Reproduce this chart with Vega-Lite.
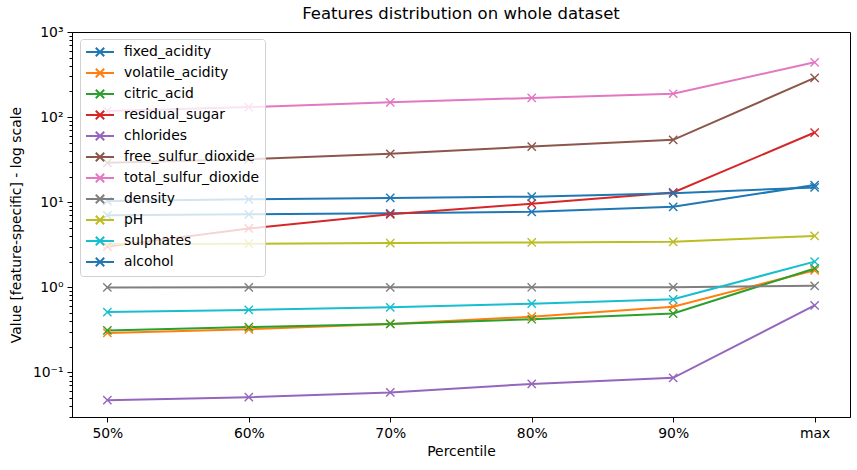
{
  "$schema": "https://vega.github.io/schema/vega-lite/v6.json",
  "autosize": {"type": "none"},
  "padding": {"left": 72, "top": 32, "right": 7, "bottom": 53},
  "width": 778,
  "height": 385,
  "background": "white",
  "title": {
    "text": "Features distribution on whole dataset",
    "fontSize": 16.5,
    "fontWeight": "normal",
    "font": "DejaVu Sans",
    "color": "black",
    "anchor": "middle",
    "offset": 3
  },
  "data": {
    "values": [
      {"feature": "fixed_acidity", "percentile": "50%", "value": 7.0},
      {"feature": "fixed_acidity", "percentile": "60%", "value": 7.2},
      {"feature": "fixed_acidity", "percentile": "70%", "value": 7.4},
      {"feature": "fixed_acidity", "percentile": "80%", "value": 7.7},
      {"feature": "fixed_acidity", "percentile": "90%", "value": 8.8},
      {"feature": "fixed_acidity", "percentile": "max", "value": 15.9},
      {"feature": "volatile_acidity", "percentile": "50%", "value": 0.29},
      {"feature": "volatile_acidity", "percentile": "60%", "value": 0.32},
      {"feature": "volatile_acidity", "percentile": "70%", "value": 0.37},
      {"feature": "volatile_acidity", "percentile": "80%", "value": 0.45},
      {"feature": "volatile_acidity", "percentile": "90%", "value": 0.59},
      {"feature": "volatile_acidity", "percentile": "max", "value": 1.58},
      {"feature": "citric_acid", "percentile": "50%", "value": 0.31},
      {"feature": "citric_acid", "percentile": "60%", "value": 0.34},
      {"feature": "citric_acid", "percentile": "70%", "value": 0.37},
      {"feature": "citric_acid", "percentile": "80%", "value": 0.42},
      {"feature": "citric_acid", "percentile": "90%", "value": 0.49},
      {"feature": "citric_acid", "percentile": "max", "value": 1.66},
      {"feature": "residual_sugar", "percentile": "50%", "value": 3.0},
      {"feature": "residual_sugar", "percentile": "60%", "value": 4.9},
      {"feature": "residual_sugar", "percentile": "70%", "value": 7.2},
      {"feature": "residual_sugar", "percentile": "80%", "value": 9.6},
      {"feature": "residual_sugar", "percentile": "90%", "value": 13.0},
      {"feature": "residual_sugar", "percentile": "max", "value": 65.8},
      {"feature": "chlorides", "percentile": "50%", "value": 0.047},
      {"feature": "chlorides", "percentile": "60%", "value": 0.051},
      {"feature": "chlorides", "percentile": "70%", "value": 0.058},
      {"feature": "chlorides", "percentile": "80%", "value": 0.073},
      {"feature": "chlorides", "percentile": "90%", "value": 0.086},
      {"feature": "chlorides", "percentile": "max", "value": 0.611},
      {"feature": "free_sulfur_dioxide", "percentile": "50%", "value": 29},
      {"feature": "free_sulfur_dioxide", "percentile": "60%", "value": 32},
      {"feature": "free_sulfur_dioxide", "percentile": "70%", "value": 37},
      {"feature": "free_sulfur_dioxide", "percentile": "80%", "value": 45},
      {"feature": "free_sulfur_dioxide", "percentile": "90%", "value": 54},
      {"feature": "free_sulfur_dioxide", "percentile": "max", "value": 289},
      {"feature": "total_sulfur_dioxide", "percentile": "50%", "value": 118},
      {"feature": "total_sulfur_dioxide", "percentile": "60%", "value": 131},
      {"feature": "total_sulfur_dioxide", "percentile": "70%", "value": 149},
      {"feature": "total_sulfur_dioxide", "percentile": "80%", "value": 168},
      {"feature": "total_sulfur_dioxide", "percentile": "90%", "value": 188},
      {"feature": "total_sulfur_dioxide", "percentile": "max", "value": 440},
      {"feature": "density", "percentile": "50%", "value": 0.9949},
      {"feature": "density", "percentile": "60%", "value": 0.9963},
      {"feature": "density", "percentile": "70%", "value": 0.9975},
      {"feature": "density", "percentile": "80%", "value": 0.9986},
      {"feature": "density", "percentile": "90%", "value": 0.9996},
      {"feature": "density", "percentile": "max", "value": 1.039},
      {"feature": "pH", "percentile": "50%", "value": 3.21},
      {"feature": "pH", "percentile": "60%", "value": 3.25},
      {"feature": "pH", "percentile": "70%", "value": 3.3},
      {"feature": "pH", "percentile": "80%", "value": 3.36},
      {"feature": "pH", "percentile": "90%", "value": 3.42},
      {"feature": "pH", "percentile": "max", "value": 4.01},
      {"feature": "sulphates", "percentile": "50%", "value": 0.51},
      {"feature": "sulphates", "percentile": "60%", "value": 0.54},
      {"feature": "sulphates", "percentile": "70%", "value": 0.58},
      {"feature": "sulphates", "percentile": "80%", "value": 0.64},
      {"feature": "sulphates", "percentile": "90%", "value": 0.72},
      {"feature": "sulphates", "percentile": "max", "value": 2.0},
      {"feature": "alcohol", "percentile": "50%", "value": 10.3},
      {"feature": "alcohol", "percentile": "60%", "value": 10.8},
      {"feature": "alcohol", "percentile": "70%", "value": 11.2},
      {"feature": "alcohol", "percentile": "80%", "value": 11.6},
      {"feature": "alcohol", "percentile": "90%", "value": 12.7},
      {"feature": "alcohol", "percentile": "max", "value": 14.9}
    ]
  },
  "mark": {
    "type": "line",
    "strokeWidth": 2,
    "point": {
      "shape": "M-1,-1L1,1M-1,1L1,-1",
      "filled": false,
      "size": 68,
      "strokeWidth": 1.4
    }
  },
  "encoding": {
    "x": {
      "field": "percentile",
      "type": "ordinal",
      "sort": ["50%", "60%", "70%", "80%", "90%", "max"],
      "scale": {"type": "point", "padding": 0.25},
      "axis": {"title": "Percentile", "labelAngle": 0, "titlePadding": 5}
    },
    "y": {
      "field": "value",
      "type": "quantitative",
      "scale": {"type": "log", "domain": [0.0298, 1000], "nice": false},
      "axis": {
        "title": "Value [feature-specific] - log scale",
        "titlePadding": 9,
        "values": [0.03, 0.04, 0.05, 0.06, 0.07, 0.08, 0.09, 0.1, 0.2, 0.3, 0.4, 0.5, 0.6, 0.7, 0.8, 0.9, 1, 2, 3, 4, 5, 6, 7, 8, 9, 10, 20, 30, 40, 50, 60, 70, 80, 90, 100, 200, 300, 400, 500, 600, 700, 800, 900, 1000],
        "labelExpr": "datum.value == 1000 ? '10³' : datum.value == 100 ? '10²' : datum.value == 10 ? '10¹' : datum.value == 1 ? '10⁰' : datum.value == 0.1 ? '10⁻¹' : ''",
        "tickSize": {"condition": {"test": "indexof([0.1, 1, 10, 100, 1000], datum.value) >= 0", "value": 5}, "value": 3},
        "labelOverlap": false
      }
    },
    "color": {
      "field": "feature",
      "type": "nominal",
      "scale": {
        "domain": ["fixed_acidity", "volatile_acidity", "citric_acid", "residual_sugar", "chlorides", "free_sulfur_dioxide", "total_sulfur_dioxide", "density", "pH", "sulphates", "alcohol"],
        "range": ["#1f77b4", "#ff7f0e", "#2ca02c", "#d62728", "#9467bd", "#8c564b", "#e377c2", "#7f7f7f", "#bcbd22", "#17becf", "#1f77b4"]
      },
      "legend": {
        "title": null,
        "orient": "none",
        "legendX": 8,
        "legendY": 7,
        "symbolType": "M-2,0L2,0M-0.6,-0.6L0.6,0.6M-0.6,0.6L0.6,-0.6",
        "symbolSize": 196,
        "symbolOffset": 7,
        "symbolStrokeWidth": 2,
        "symbolFillColor": "transparent",
        "labelFontSize": 13.9,
        "labelFont": "DejaVu Sans",
        "labelColor": "black",
        "labelLimit": 300,
        "labelOffset": 16,
        "rowPadding": 3,
        "padding": 5,
        "strokeColor": "#d0d0d0",
        "fillColor": "rgba(255,255,255,0.8)",
        "cornerRadius": 3
      }
    }
  },
  "config": {
    "font": "DejaVu Sans",
    "view": {"stroke": "black", "strokeWidth": 1},
    "axis": {
      "grid": false,
      "domainColor": "black",
      "tickColor": "black",
      "labelColor": "black",
      "titleColor": "black",
      "labelFontSize": 13.9,
      "titleFontSize": 13.9,
      "titleFontWeight": "normal",
      "labelFont": "DejaVu Sans",
      "titleFont": "DejaVu Sans",
      "tickSize": 5,
      "labelPadding": 4
    }
  }
}
